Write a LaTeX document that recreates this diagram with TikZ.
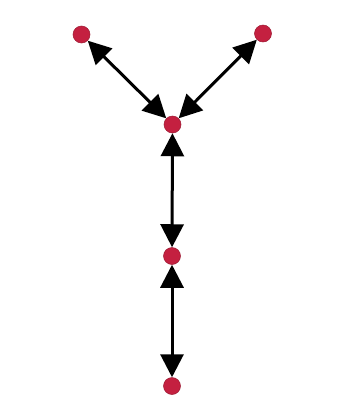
\documentclass[tikz,border=0pt]{standalone}
\usetikzlibrary{arrows.meta}
\definecolor{dotred}{RGB}{196,32,64}
\begin{document}
\begin{tikzpicture}[x=1pt,y=-1pt,
  dot/.style={circle,fill=dotred,draw=dotred!80!black,line width=0.5pt,minimum size=17pt,inner sep=0pt},
  link/.style={line width=3pt,{Triangle[length=23pt,width=23pt]}-{Triangle[length=23pt,width=23pt]},shorten <=0pt,shorten >=0pt}]
\useasboundingbox[fill=white] (0,0) rectangle (342,410);
\node[dot] (tl) at (81.5,34.5) {};
\node[dot] (tr) at (263,33.5) {};
\node[dot] (c) at (172.5,124.5) {};
\node[dot] (m) at (172,256) {};
\node[dot] (b) at (172,386) {};
\draw[link] (tl) -- (c);
\draw[link] (tr) -- (c);
\draw[link] (c) -- (m);
\draw[link] (m) -- (b);
\end{tikzpicture}
\end{document}
